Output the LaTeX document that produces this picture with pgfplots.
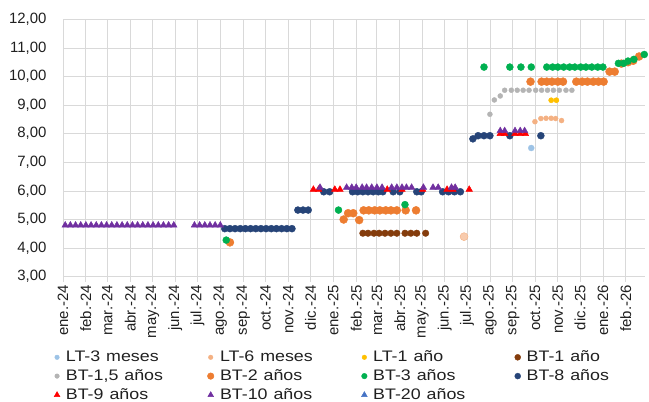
\documentclass[border=0pt]{standalone}
\usepackage{pgfplots}
\pgfplotsset{compat=1.18}
\usepackage{fontspec}
\setmainfont{Liberation Sans}
\newcommand\tickfont{\fontsize{15}{18}\selectfont}
\newcommand\legendfont{\fontsize{15.3}{18}\selectfont}
\newcommand\legtxt[1]{\scalebox{1.17}[1]{#1}}
\definecolor{cLTthree}{HTML}{9DC3E6}
\definecolor{cLTsix}{HTML}{F4B183}
\definecolor{cLTone}{HTML}{FFC000}
\definecolor{cBTone}{HTML}{843C0C}
\definecolor{cBTonefive}{HTML}{B4B4B4}
\definecolor{cBTtwo}{HTML}{ED7D31}
\definecolor{cBTthree}{HTML}{00B050}
\definecolor{cBTeight}{HTML}{264478}
\definecolor{cBTnine}{HTML}{FF0000}
\definecolor{cBTten}{HTML}{7030A0}
\definecolor{cBTtwenty}{HTML}{4472C4}
\definecolor{gridc}{HTML}{D9D9D9}
\definecolor{peach}{HTML}{F8CBAD}
\definecolor{txt}{HTML}{202020}
\begin{document}
\begin{tikzpicture}
\begin{axis}[
  at={(0,0)}, anchor=south west,
  width=582bp, height=257.4bp, scale only axis,
  xmin=0, xmax=788, ymin=3, ymax=12,
  ytick={3,4,5,6,7,8,9,10,11,12},
  xtick={0,31,60,91,121,152,182,213,244,274,305,335,366,397,425,456,486,517,547,578,609,639,670,700,731,762},
  xticklabels={ene.-24,feb.-24,mar.-24,abr.-24,may.-24,jun.-24,jul.-24,ago.-24,sep.-24,oct.-24,nov.-24,dic.-24,ene.-25,feb.-25,mar.-25,abr.-25,may.-25,jun.-25,jul.-25,ago.-25,sep.-25,oct.-25,nov.-25,dic.-25,ene.-26,feb.-26},
  tick label style={font=\tickfont, text=txt},
  xticklabel style={rotate=90, anchor=east},
  yticklabel style={/pgf/number format/fixed, /pgf/number format/fixed zerofill, /pgf/number format/precision=2, /pgf/number format/use comma, xshift=-8bp},
  /pgf/number format/assume math mode=true,
  grid=major, major grid style={draw=gridc, line width=0.8bp},
  axis lines*=left, axis line style={draw=gridc, line width=0.8bp},
  tick align=outside, major tick length=5bp,
  xtick style={draw=gridc, line width=0.8bp}, ytick style={draw=none},
  clip=false,
  legend columns=4,
  legend cell align=left,
  legend image code/.code={\draw[#1] plot coordinates {(0bp,0bp)};},
  legend style={at={(axis description cs:0,0)}, anchor=north west, xshift=-9bp, yshift=-71bp,
    draw=none, fill=none, inner sep=0pt, column sep=4bp, row sep=0pt, font=\legendfont, text=txt,
    nodes={inner xsep=2bp, inner ysep=2bp, text width=135.5bp, text height=11.5bp, text depth=3.3bp, align=left}},
]
% LT-3 meses
\addplot[forget plot, only marks, mark=*, mark size=3bp, draw=cLTthree, fill=cLTthree] coordinates {(634,7.50)};
% LT-6 meses
\addplot[forget plot, only marks, mark=*, mark size=2.5bp, draw=cLTsix, fill=cLTsix] coordinates {
(639,8.42) (647,8.53) (654,8.54) (661,8.54) (667,8.53) (675,8.46)};
\addplot[forget plot, only marks, mark=*, mark size=4bp, draw=cLTsix, fill=peach] coordinates {(543,4.40)};
% LT-1 año
\addplot[forget plot, only marks, mark=*, mark size=2.6bp, draw=cLTone, fill=cLTone] coordinates {(661,9.17) (668,9.17)};
% BT-1 año
\addplot[forget plot, only marks, mark=*, mark size=3.3bp, draw=cBTone, fill=cBTone] coordinates {
(406,4.52) (413,4.52) (421,4.52) (428,4.52) (436,4.52) (444,4.52) (452,4.52) (463,4.52) (471,4.52) (479,4.52) (491,4.52)};
% BT-1,5 años
\addplot[forget plot, only marks, mark=*, mark size=2.5bp, draw=cBTonefive, fill=cBTonefive] coordinates {
(578,8.68) (584,9.18) (592,9.32) (598,9.52) (607,9.52) (615,9.52) (623,9.52) (631,9.52) (640,9.52) (648,9.52) (656,9.52) (664,9.52) (672,9.52) (681,9.52) (689,9.52)};
% BT-2 años
\addplot[forget plot, only marks, mark=*, mark size=4bp, draw=cBTtwo, fill=cBTtwo] coordinates {
(226,4.20) (380,5.00) (386,5.22) (393,5.22) (401,4.98) (407,5.32) (414,5.32) (422,5.32) (429,5.32) (437,5.32) (444,5.32) (452,5.32) (464,5.32) (478,5.32)
(633,9.82) (648,9.82) (655,9.82) (662,9.82) (670,9.82) (677,9.82) (695,9.82) (703,9.82) (710,9.82) (718,9.82) (725,9.82) (732,9.82)
(740,10.17) (747,10.17) (756,10.45) (765,10.50) (772,10.55) (780,10.70)};
% BT-3 años
\addplot[forget plot, only marks, mark=*, mark size=3.5bp, draw=cBTthree, fill=cBTthree] coordinates {
(221,4.28) (373,5.33) (463,5.52) (570,10.33) (605,10.33) (620,10.33) (634,10.33) (655,10.33) (663,10.33) (670,10.33) (678,10.33) (686,10.33) (693,10.33) (701,10.33) (708,10.33) (716,10.33) (724,10.33) (731,10.33)
(752,10.46) (759,10.46) (765,10.54) (773,10.60) (787,10.77)};
% BT-8 años
\addplot[forget plot, only marks, mark=*, mark size=3.5bp, draw=cBTeight, fill=cBTeight] coordinates {
(219,4.68) (226,4.68) (233,4.68) (240,4.68) (247,4.68) (254,4.68) (261,4.68) (268,4.68) (275,4.68) (282,4.68) (289,4.68) (296,4.68) (303,4.68) (310,4.68)
(318,5.33) (325,5.33) (332,5.33)
(353,5.97) (361,5.97) (392,5.97) (399,5.97) (406,5.97) (413,5.97) (420,5.97) (427,5.97) (433,5.97) (447,5.97) (456,5.97) (479,5.97) (485,5.97) (514,5.97) (522,5.97) (530,5.97) (538,5.97)
(555,7.82) (562,7.93) (570,7.93) (578,7.93) (605,7.93) (647,7.93)};
% BT-9 años
\addplot[forget plot, only marks, mark=triangle*, mark size=3.8bp, draw=cBTnine, fill=cBTnine] coordinates {
(339,6.05) (346,6.05) (368,6.05) (375,6.05) (439,6.05) (459,6.05) (487,6.05) (520,6.05) (528,6.05) (550,6.05)
(592,8.00) (598,8.00) (612,8.00) (619,8.00) (626,8.00)};
% BT-10 años
\addplot[forget plot, only marks, mark=triangle*, mark size=3.8bp, draw=cBTten, fill=cBTten] coordinates {
(3,4.80) (10,4.80) (17,4.80) (24,4.80) (31,4.80) (38,4.80) (45,4.80) (52,4.80) (59,4.80) (66,4.80) (73,4.80) (80,4.80) (87,4.80) (94,4.80) (101,4.80) (108,4.80) (115,4.80) (122,4.80) (129,4.80) (136,4.80) (143,4.80) (150,4.80)
(178,4.80) (185,4.80) (192,4.80) (199,4.80) (206,4.80) (213,4.80)
(348,6.12) (384,6.12) (391,6.12) (397,6.12) (405,6.12) (411,6.12) (418,6.12) (425,6.12) (432,6.12) (445,6.12) (452,6.12) (459,6.12) (465,6.12) (472,6.12) (488,6.12) (501,6.12) (508,6.12) (526,6.12) (531,6.12)
(592,8.10) (598,8.10) (612,8.10) (619,8.10) (625,8.10)};
% legend
\addlegendimage{only marks, mark=*, mark size=2.3bp, draw=cLTthree, fill=cLTthree}
\addlegendentry{\legtxt{LT-3 meses}}
\addlegendimage{only marks, mark=*, mark size=2.3bp, draw=cLTsix, fill=cLTsix}
\addlegendentry{\legtxt{LT-6 meses}}
\addlegendimage{only marks, mark=*, mark size=2.3bp, draw=cLTone, fill=cLTone}
\addlegendentry{\legtxt{LT-1 año}}
\addlegendimage{only marks, mark=*, mark size=3bp, draw=cBTone, fill=cBTone}
\addlegendentry{\legtxt{BT-1 año}}
\addlegendimage{only marks, mark=*, mark size=2.3bp, draw=cBTonefive, fill=cBTonefive}
\addlegendentry{\legtxt{BT-1,5 años}}
\addlegendimage{only marks, mark=*, mark size=3.3bp, draw=cBTtwo, fill=cBTtwo}
\addlegendentry{\legtxt{BT-2 años}}
\addlegendimage{only marks, mark=*, mark size=2.8bp, draw=cBTthree, fill=cBTthree}
\addlegendentry{\legtxt{BT-3 años}}
\addlegendimage{only marks, mark=*, mark size=3bp, draw=cBTeight, fill=cBTeight}
\addlegendentry{\legtxt{BT-8 años}}
\addlegendimage{only marks, mark=triangle*, mark size=3.3bp, draw=cBTnine, fill=cBTnine}
\addlegendentry{\legtxt{BT-9 años}}
\addlegendimage{only marks, mark=triangle*, mark size=3.3bp, draw=cBTten, fill=cBTten}
\addlegendentry{\legtxt{BT-10 años}}
\addlegendimage{only marks, mark=triangle*, mark size=3.3bp, draw=cBTtwenty, fill=cBTtwenty}
\addlegendentry{\legtxt{BT-20 años}}
\end{axis}
\pgfresetboundingbox
\path (-63bp,-125.3bp) rectangle (586bp,276.7bp);
\end{tikzpicture}
\end{document}
